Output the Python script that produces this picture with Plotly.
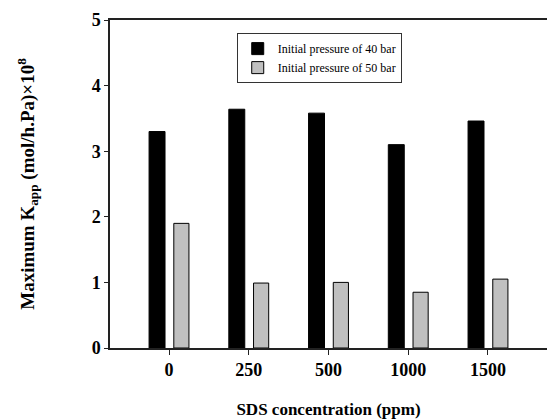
import plotly.graph_objects as go

categories = ["0", "250", "500", "1000", "1500"]
p40 = [3.30, 3.64, 3.58, 3.10, 3.46]
p50 = [1.90, 0.99, 1.00, 0.85, 1.05]
y_ticks = [0, 1, 2, 3, 4, 5]

xs = list(range(len(categories)))
font = "Liberation Serif"

fig = go.Figure()
fig.add_trace(go.Bar(x=xs, y=p40, name="Initial pressure of 40 bar",
                     width=0.2, offset=-0.25,
                     marker=dict(color="black", line=dict(color="black", width=1))))
fig.add_trace(go.Bar(x=xs, y=p50, name="Initial pressure of 50 bar",
                     width=0.19, offset=0.06,
                     marker=dict(color="#c0c0c0", line=dict(color="black", width=1))))

fig.update_layout(
    width=547, height=419,
    margin=dict(l=110, r=0, t=20, b=71),
    plot_bgcolor="white", paper_bgcolor="white",
    font=dict(family=font, color="black"),
    showlegend=True,
    legend=dict(x=0.29, y=0.96, xanchor="left", yanchor="top",
                bordercolor="#333", borderwidth=1, bgcolor="white",
                font=dict(size=12, family=font), tracegroupgap=0,
                itemwidth=30),
    xaxis=dict(range=[-0.74, 4.74], tickmode="array", tickvals=xs, ticktext=categories,
               showline=True, linecolor="#222", linewidth=1.5, mirror=True,
               ticks="outside", ticklen=5, tickcolor="#222",
               showgrid=False, zeroline=False,
               tickfont=dict(size=18, family=font, weight="bold"),
               title=dict(text="<b>SDS concentration (ppm)</b>", font=dict(size=17, family=font), standoff=27)),
    yaxis=dict(range=[0, 5], tickvals=y_ticks,
               showline=True, linecolor="#222", linewidth=1.5,
               ticks="outside", ticklen=4, tickcolor="#222",
               showgrid=False, zeroline=False,
               tickfont=dict(size=18, family=font, weight="bold"),
               title=dict(text="<b>Maximum K<sub>app</sub> (mol/h.Pa)×10<sup>8</sup></b>",
                          font=dict(size=19, family=font), standoff=52)),
)

fig.write_html("out.html")
